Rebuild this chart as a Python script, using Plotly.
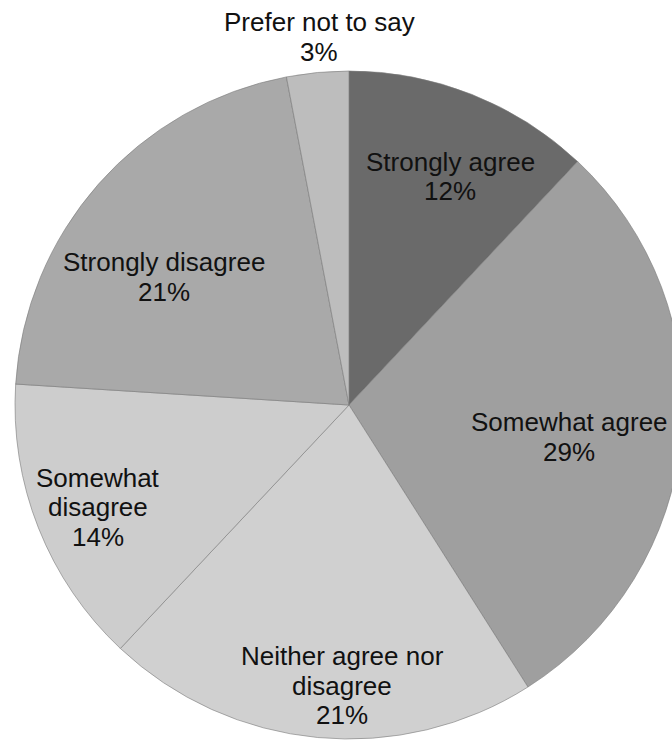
import plotly.graph_objects as go

categories = ["Strongly agree", "Somewhat agree", "Neither agree nor disagree",
              "Somewhat disagree", "Strongly disagree", "Prefer not to say"]
values = [12, 29, 21, 14, 21, 3]
colors = ["#6a6a6a", "#9f9f9f", "#d0d0d0", "#cdcdcd", "#a9a9a9", "#bdbdbd"]

# label text lines (as shown on the chart) and their pixel centres
label_lines = [
    ["Strongly agree", "12%"],
    ["Somewhat agree", "29%"],
    ["Neither agree nor", "disagree", "21%"],
    ["Somewhat", "disagree", "14%"],
    ["Strongly disagree", "21%"],
    ["Prefer not to say", "3%"],
]
label_pos = [(450, 162), (569, 422), (342, 656), (98, 478), (164, 262), (319, 22)]

VIEW_W, H = 672, 743
W = 700          # figure is a bit wider than the window; the pie runs off the right edge
LINE_H = 29.5
CX, CY, R = 349, 405, 334

fig = go.Figure(go.Pie(
    labels=categories,
    values=values,
    sort=False,
    direction="clockwise",
    rotation=0,
    textinfo="none",
    hoverinfo="label+percent",
    marker=dict(colors=colors, line=dict(color="#7a7a7a", width=0.6)),
    domain=dict(x=[(CX - R) / W, (CX + R) / W], y=[(H - CY - R) / H, (H - CY + R) / H]),
    showlegend=False,
))

annotations = []
for lines, (px, py) in zip(label_lines, label_pos):
    for i, t in enumerate(lines):
        annotations.append(dict(
            x=px / W, y=1 - (py + i * LINE_H) / H, xref="paper", yref="paper",
            text=t, showarrow=False, xanchor="center", yanchor="middle",
            font=dict(family="Liberation Sans, Arial, sans-serif", size=26, color="#111111"),
        ))

fig.update_layout(
    width=W, height=H,
    margin=dict(l=0, r=0, t=0, b=0),
    paper_bgcolor="white", plot_bgcolor="white",
    annotations=annotations,
)

fig.write_html(
    "out.html",
    post_script="document.documentElement.style.overflow='hidden';document.body.style.overflow='hidden';",
)
